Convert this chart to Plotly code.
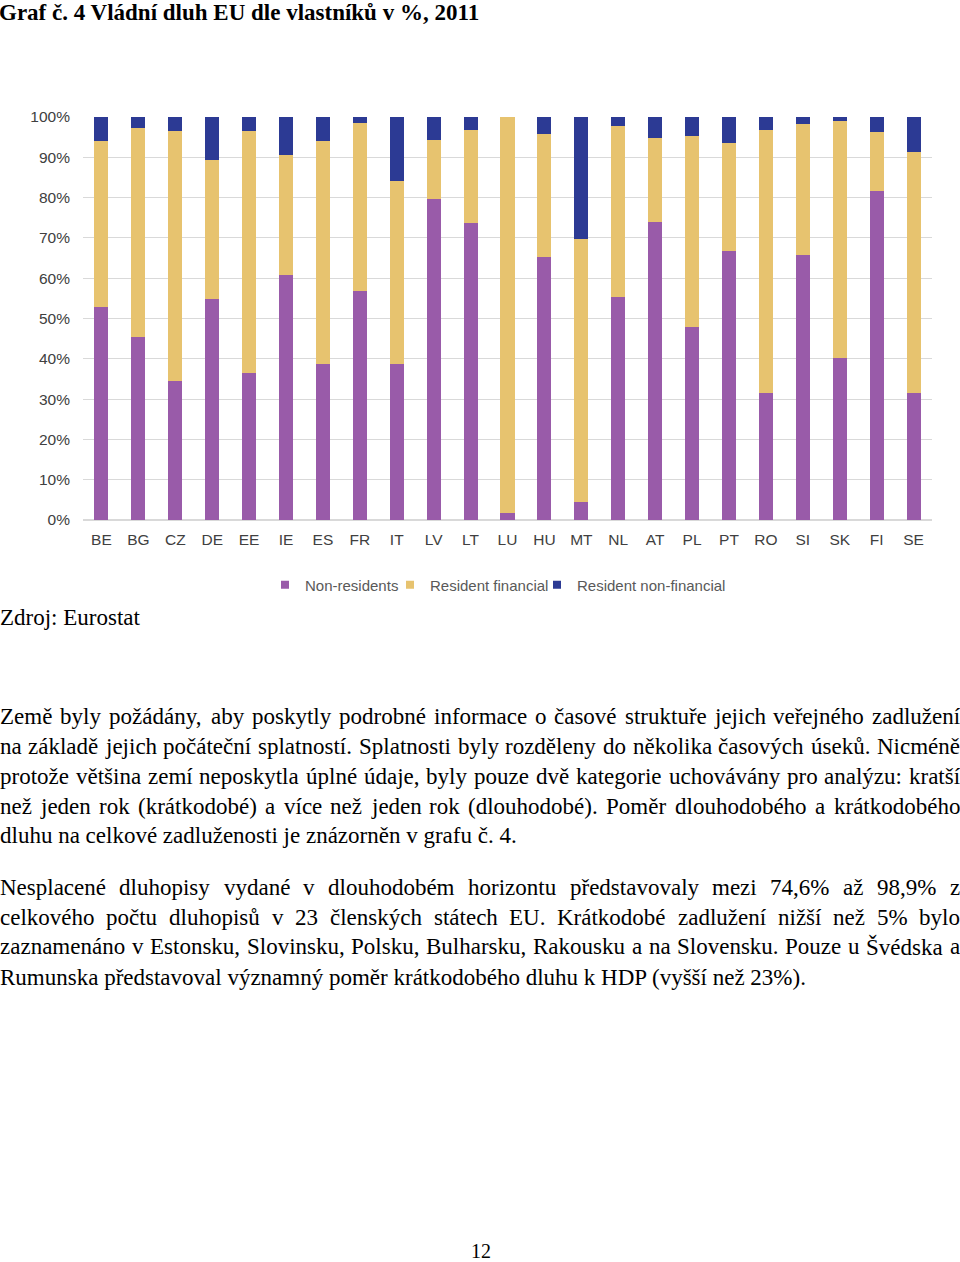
import plotly.graph_objects as go

# ---------------- data ----------------
countries = ["BE", "BG", "CZ", "DE", "EE", "IE", "ES", "FR", "IT", "LV", "LT", "LU",
             "HU", "MT", "NL", "AT", "PL", "PT", "RO", "SI", "SK", "FI", "SE"]
non_residents = [52.9, 45.4, 34.5, 54.8, 36.5, 60.8, 38.7, 56.8, 38.6, 79.6, 73.7, 1.8,
                 65.3, 4.5, 55.3, 74.0, 48.0, 66.7, 31.6, 65.7, 40.1, 81.6, 31.6]
resident_financial = [41.1, 51.9, 62.0, 34.5, 60.0, 29.8, 55.3, 41.6, 45.5, 14.7, 23.0, 98.2,
                      30.5, 65.2, 42.5, 20.7, 47.2, 26.9, 65.1, 32.6, 58.9, 14.6, 59.6]
resident_nonfinancial = [6.0, 2.7, 3.5, 10.7, 3.5, 9.4, 6.0, 1.6, 15.9, 5.7, 3.3, 0.0,
                         4.2, 30.3, 2.2, 5.3, 4.8, 6.4, 3.3, 1.7, 1.0, 3.8, 8.8]
series_names = ["Non-residents", "Resident financial", "Resident non-financial"]
y_ticks = [0, 10, 20, 30, 40, 50, 60, 70, 80, 90, 100]
y_tick_labels = ["0%", "10%", "20%", "30%", "40%", "50%", "60%", "70%", "80%", "90%", "100%"]

title_text = "Graf č. 4 Vládní dluh EU dle vlastníků v %, 2011"
source_text = "Zdroj: Eurostat"
para1 = [
    "Země byly požádány, aby poskytly podrobné informace o časové struktuře jejich veřejného zadlužení",
    "na základě jejich počáteční splatností. Splatnosti byly rozděleny do několika časových úseků. Nicméně",
    "protože většina zemí neposkytla úplné údaje, byly pouze dvě kategorie uchovávány pro analýzu: kratší",
    "než jeden rok (krátkodobé) a více než jeden rok (dlouhodobé). Poměr dlouhodobého a krátkodobého",
    "dluhu na celkové zadluženosti je znázorněn v grafu č. 4.",
]
para2 = [
    "Nesplacené dluhopisy vydané v dlouhodobém horizontu představovaly mezi 74,6% až 98,9% z",
    "celkového počtu dluhopisů v 23 členských státech EU. Krátkodobé zadlužení nižší než 5% bylo",
    "zaznamenáno v Estonsku, Slovinsku, Polsku, Bulharsku, Rakousku a na Slovensku. Pouze u Švédska a",
    "Rumunska představoval významný poměr krátkodobého dluhu k HDP (vyšší než 23%).",
]
page_number = "12"

# ---------------- styles ----------------
colors = ["#995BA9", "#E7C36F", "#2C3A94"]
W, H = 960, 1262
L, R, T, B = 83, 932, 117, 520   # plot area in pixels
SERIF = "Liberation Serif"
SANS = "Liberation Sans"
BODY_SIZE = 23
legend_ids = ["legend", "legend2", "legend3"]
legend_left_px = [265, 390, 537]


def px_x(px):
    return (px - L) / (R - L)


def px_y(py):
    return (B - py) / (B - T)


fig = go.Figure()
for name, vals, col, lid in zip(series_names,
                                [non_residents, resident_financial, resident_nonfinancial],
                                colors, legend_ids):
    fig.add_trace(go.Bar(x=countries, y=vals, name=name, marker_color=col,
                         marker_line_width=0, showlegend=False))
    # legend swatch (small square like the original)
    fig.add_trace(go.Scatter(x=[None], y=[None], mode="markers", name=name,
                             marker=dict(symbol="square", size=8, color=col),
                             legend=lid, showlegend=True))

# Times-compatible glyph widths (per 1000 em) for justification
base_w = {" ": 250, "(": 333, ")": 333, ",": 250, "-": 333, ".": 250, ":": 278, "%": 833,
          "a": 444, "b": 500, "c": 444, "d": 500, "e": 444, "f": 333, "g": 500, "h": 500,
          "i": 278, "j": 278, "k": 500, "l": 278, "m": 778, "n": 500, "o": 500, "p": 500,
          "q": 500, "r": 333, "s": 389, "t": 278, "u": 500, "v": 500, "w": 722, "x": 500,
          "y": 500, "z": 444,
          "A": 722, "B": 667, "C": 667, "D": 722, "E": 611, "F": 556, "G": 722, "H": 722,
          "I": 333, "J": 389, "K": 722, "L": 611, "M": 889, "N": 722, "O": 722, "P": 556,
          "Q": 722, "R": 667, "S": 556, "T": 611, "U": 722, "V": 722, "W": 944, "X": 722,
          "Y": 722, "Z": 611}
accent_map = str.maketrans("ěščřžýáíéúůóňťďŠČŽŘ", "escrzyaieuuontdSCZR")


def text_w(s, size):
    s2 = s.translate(accent_map)
    return sum(base_w.get(ch, 500) for ch in s2) / 1000.0 * size


annotations = []


def add_text(txt, x_px, y_px, size, bold=False, family=SERIF, xanchor="left", color="#000000"):
    annotations.append(dict(
        text=("<b>%s</b>" % txt) if bold else txt,
        x=px_x(x_px), y=px_y(y_px), xref="paper", yref="paper",
        xanchor=xanchor, yanchor="middle", showarrow=False, borderpad=0, borderwidth=0,
        font=dict(family=family, size=size, color=color)))


def add_justified(line, y_px, justify, left=0, right=960):
    words = line.split(" ")
    if not justify or len(words) < 2:
        add_text(line, left, y_px, BODY_SIZE)
        return
    widths = [text_w(w, BODY_SIZE) for w in words]
    gap = (right - left - sum(widths)) / (len(words) - 1)
    x = left
    for w, ww in zip(words, widths):
        add_text(w, x, y_px, BODY_SIZE)
        x += ww + gap


add_text(title_text, -1, 12, BODY_SIZE, bold=True)
add_text(source_text, 0, 617, BODY_SIZE)
for i, line in enumerate(para1):
    add_justified(line, 716 + 30 * i, i < len(para1) - 1)
for i, line in enumerate(para2):
    add_justified(line, 887 + 30 * i, i < len(para2) - 1)
add_text(page_number, 481, 1251, 20, xanchor="center")

legend_style = dict(orientation="h", xanchor="left", yanchor="middle",
                    font=dict(family=SANS, size=15, color="#595959"),
                    itemwidth=30, bgcolor="rgba(0,0,0,0)", borderwidth=0)
layout_legends = {}
for lid, lx in zip(legend_ids, legend_left_px):
    layout_legends[lid] = dict(legend_style, x=px_x(lx), y=px_y(585))

fig.update_layout(
    width=W, height=H,
    margin=dict(l=L, r=W - R, t=T, b=H - B, autoexpand=False),
    barmode="stack", bargap=0.62,
    plot_bgcolor="white", paper_bgcolor="white",
    font=dict(family=SANS, size=15, color="#404040"),
    showlegend=True,
    annotations=annotations,
    **layout_legends,
)
fig.update_yaxes(range=[0, 100], tickmode="array", tickvals=y_ticks, ticktext=y_tick_labels,
                 showgrid=True, gridcolor="#D9D9D9", gridwidth=1, zeroline=True,
                 zerolinecolor="#D9D9D9", showline=False, ticks="", ticklabelstandoff=12,
                 tickfont=dict(family=SANS, size=15.5, color="#404040"))
fig.update_xaxes(showgrid=False, showline=False, ticks="", ticklabelstandoff=8,
                 tickfont=dict(family=SANS, size=15.5, color="#404040"))

fig.write_html("out.html", config={"displayModeBar": False},
               post_script="document.body.style.margin='0px';document.body.style.overflow='hidden';")
